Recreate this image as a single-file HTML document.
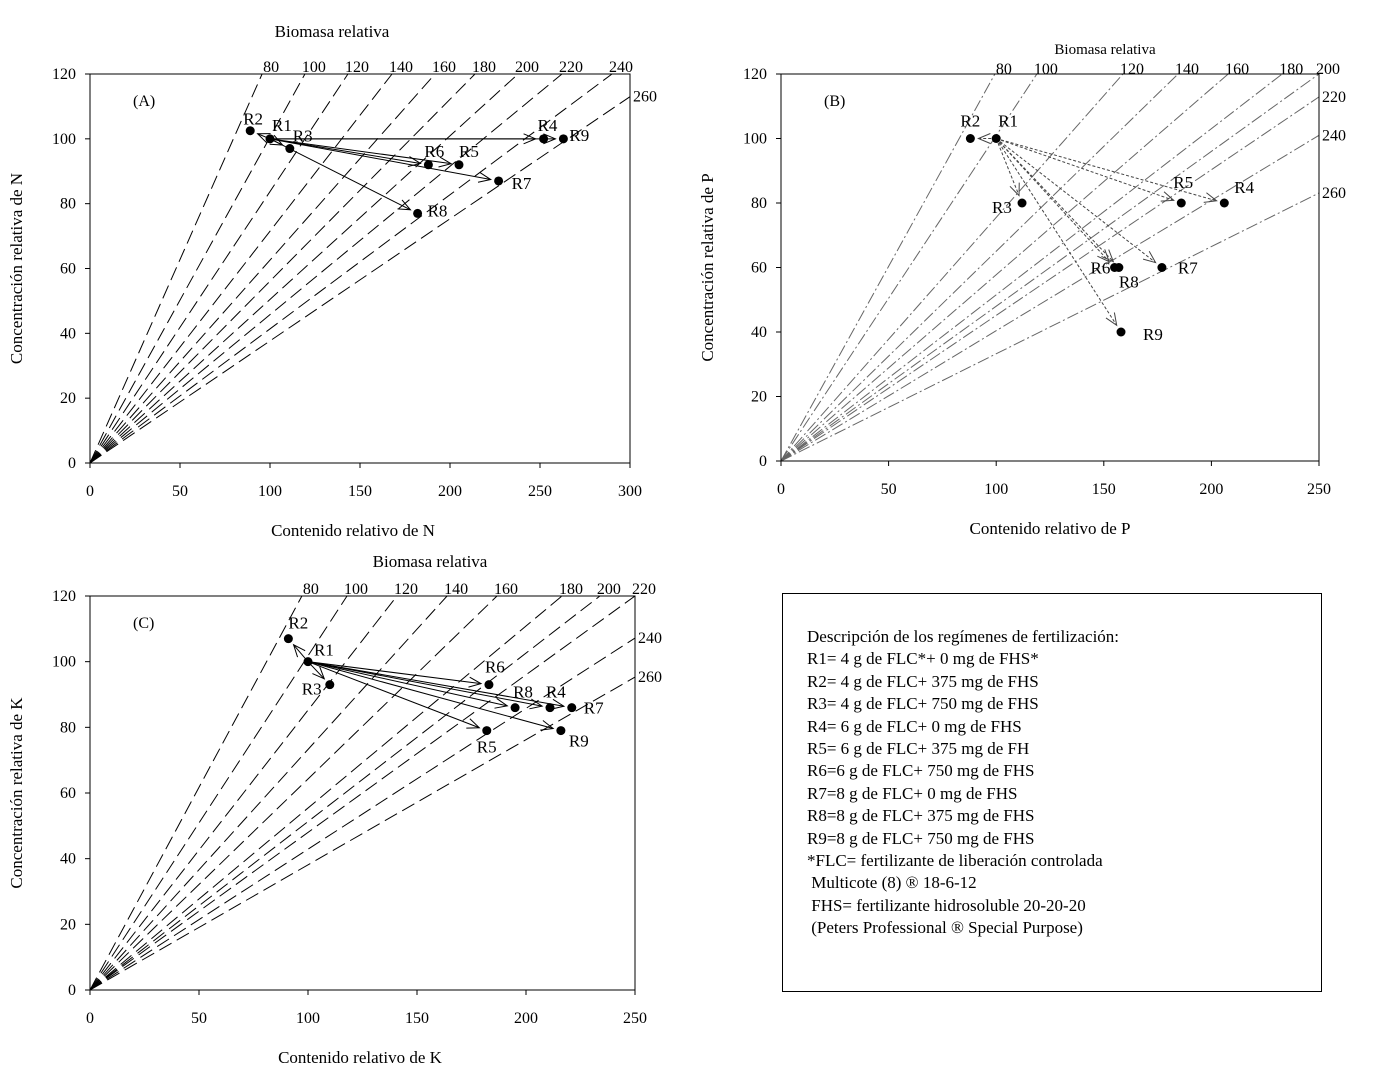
<!DOCTYPE html>
<html><head><meta charset="utf-8">
<style>
body{margin:0;background:#fff;width:1395px;height:1070px;overflow:hidden;font-family:"Liberation Serif",serif;}
svg{position:absolute;left:0;top:0}
text{font-family:"Liberation Serif",serif;fill:#000}
#legend{position:absolute;left:782px;top:593px;width:540px;height:399px;border:1px solid #000;box-sizing:border-box;font-size:17px;line-height:22.4px;padding:32px 0 0 24px}
</style></head>
<body>
<svg id="chart" width="1395" height="1070"></svg>
<div id="legend">
<div>Descripción de los regímenes de fertilización:</div>
<div>R1= 4 g de FLC*+ 0 mg de FHS*</div>
<div>R2= 4 g de FLC+ 375 mg de FHS</div>
<div>R3= 4 g de FLC+ 750 mg de FHS</div>
<div>R4= 6 g de FLC+ 0 mg de FHS</div>
<div>R5= 6 g de FLC+ 375 mg de FH</div>
<div>R6=6 g de FLC+ 750 mg de FHS</div>
<div>R7=8 g de FLC+ 0 mg de FHS</div>
<div>R8=8 g de FLC+ 375 mg de FHS</div>
<div>R9=8 g de FLC+ 750 mg de FHS</div>
<div>*FLC= fertilizante de liberación controlada</div>
<div>&nbsp;Multicote (8) ® 18-6-12</div>
<div>&nbsp;FHS= fertilizante hidrosoluble 20-20-20</div>
<div>&nbsp;(Peters Professional ® Special Purpose)</div>
</div>
<script>
const NS="http://www.w3.org/2000/svg";
const svg=document.getElementById('chart');
const namesA=["R1","R2","R3","R4","R5","R6","R7","R8","R9"];
// Panel A data (N)
const xA=[100,89,111,252,205,188,227,182,263];
const yA=[100,102.5,97,100,92,92,87,77,100];
const biomassA=[80,100,120,140,160,180,200,220,240,260];
const endXA=[95.6,119.4,143.3,167.8,191.7,213.9,237.8,262.2,290,300];
const endYA=[120,120,120,120,120,120,120,120,120,113];
const xTicksA=[0,50,100,150,200,250,300];
// Panel B data (P)
const xB=[100,88,112,206,186,155,177,157,158];
const yB=[100,100,80,80,80,60,60,60,40];
const biomassB=[80,100,120,140,160,180,200,220,240,260];
const endXB=[99.4,118.9,158.9,184.5,207.8,232.9,250,250,250,250];
const endYB=[120,120,120,120,120,120,120,112.9,101,83.1];
const xTicksB=[0,50,100,150,200,250];
// Panel C data (K)
const xC=[100,91,110,211,182,183,221,195,216];
const yC=[100,107,93,86,79,93,86,86,79];
const biomassC=[80,100,120,140,160,180,200,220,240,260];
const endXC=[97.2,117.9,140.8,163.8,186.7,216.5,233.9,250,250,250];
const endYC=[120,120,120,120,120,120,120,120,107.2,95.3];
const xTicksC=[0,50,100,150,200,250];
const yTicks=[0,20,40,60,80,100,120];

function el(tag,attrs,parent){const e=document.createElementNS(NS,tag);for(const k in attrs)e.setAttribute(k,attrs[k]);(parent||svg).appendChild(e);return e;}
function txt(s,x,y,size,anchor,parent,name){const t=el('text',{x:x,y:y,'font-size':size,'text-anchor':anchor||'start'},parent);t.textContent=s;


return t;}

function panel(cfg){
 const g=el('g',{});
 
 
 const X=v=>cfg.x0+(v-0)/cfg.xmax*(cfg.x1-cfg.x0);
 const Y=v=>cfg.y1-(v/120)*(cfg.y1-cfg.y0);
 cfg.bio.forEach((b,i)=>{
  const xe=cfg.ex[i], ye=cfg.ey[i];
  const ln=el('line',{x1:X(0),y1:Y(0),x2:X(xe),y2:Y(ye),stroke:cfg.lineColor,'stroke-width':1,'stroke-dasharray':cfg.dash},g);
  
  
  if(ye>=120) txt(String(b),X(xe)+9,cfg.y0-cfg.tOff,16,'middle',g,'biomass-label-'+b);
  else txt(String(b),cfg.x1+3,Y(ye)+5,16,'start',g,'biomass-label-'+b);
 });
 const fr=el('rect',{x:cfg.x0,y:cfg.y0,width:cfg.x1-cfg.x0,height:cfg.y1-cfg.y0,fill:'none',stroke:'#000','stroke-width':1},g);
 
 
 cfg.xt.forEach(v=>{el('line',{x1:X(v),y1:cfg.y1,x2:X(v),y2:cfg.y1+5,stroke:'#000'},g);txt(String(v),X(v),cfg.y1+33,16,'middle',g,'x-tick-'+v);});
 yTicks.forEach(v=>{el('line',{x1:cfg.x0-5,y1:Y(v),x2:cfg.x0,y2:Y(v),stroke:'#000'},g);txt(String(v),cfg.x0-14,Y(v)+5,16,'end',g,'y-tick-'+v);});
 txt(cfg.xlabel,cfg.xlx,cfg.y1+73,17,'middle',g,'x-axis-title');
 const yl=txt(cfg.ylabel,0,0,17,'middle',g,'y-axis-title');
 yl.setAttribute('transform','translate('+(cfg.x0-68)+','+((cfg.y0+cfg.y1)/2)+') rotate(-90)');
 txt('Biomasa relativa',cfg.btx,cfg.bty,cfg.bts,'middle',g,'top-axis-title');
 txt(cfg.letter,cfg.x0+43,cfg.y0+32,16,'start',g,'panel-letter');
 for(let i=1;i<cfg.xs.length;i++){
  const ax=X(cfg.xs[0]),ay=Y(cfg.ys[0]),bx=X(cfg.xs[i]),by=Y(cfg.ys[i]);
  const d=Math.hypot(bx-ax,by-ay),ux=(bx-ax)/d,uy=(by-ay)/d;
  const ex=bx-ux*8,ey=by-uy*8;
  const a=el('line',{x1:ax,y1:ay,x2:ex,y2:ey,stroke:cfg.arrowColor,'stroke-width':1,'stroke-dasharray':cfg.arrowDash},g);
  
  
  const hx=12,hw=5;
  const p1=[ex-ux*hx-uy*hw,ey-uy*hx+ux*hw],p2=[ex-ux*hx+uy*hw,ey-uy*hx-ux*hw];
  el('polyline',{points:p1.join(',')+' '+ex+','+ey+' '+p2.join(','),fill:'none',stroke:cfg.arrowColor,'stroke-width':1},g);
 }
 cfg.xs.forEach((v,i)=>{
  const c=el('circle',{cx:X(v),cy:Y(cfg.ys[i]),r:4.5,fill:'#000'},g);
  
  
  const o=cfg.lo[i];
  txt(cfg.names[i],X(v)+o[0],Y(cfg.ys[i])+o[1],17,'start',g,'point-label-'+cfg.names[i].toLowerCase());
 });
}
panel({name:'panel-a',letter:'(A)',x0:90,x1:630,y0:74,y1:463,xmax:300,bio:biomassA,ex:endXA,ey:endYA,xt:xTicksA,xs:xA,ys:yA,names:namesA,
 xlabel:'Contenido relativo de N',xlx:353,ylabel:'Concentración relativa de N',btx:332,bty:37,bts:17,tOff:2,
 lineColor:'#000',dash:'14,6',arrowColor:'#000',arrowDash:'none',
 lo:[[2,-8],[-7,-6],[3,-7],[-6,-8],[0,-8],[-4,-8],[13,8],[10,3],[6,2]]});
panel({name:'panel-b',letter:'(B)',x0:781,x1:1319,y0:74,y1:461,xmax:250,bio:biomassB,ex:endXB,ey:endYB,xt:xTicksB,xs:xB,ys:yB,names:namesA,
 xlabel:'Contenido relativo de P',xlx:1050,ylabel:'Concentración relativa de P',btx:1105,bty:54,bts:15,tOff:0,
 lineColor:'#666',dash:'12,3,2,3',arrowColor:'#444',arrowDash:'3,2',
 lo:[[2,-12],[-10,-12],[-30,10],[10,-10],[-8,-15],[-24,6],[16,6],[0,20],[22,8]]});
panel({name:'panel-c',letter:'(C)',x0:90,x1:635,y0:596,y1:990,xmax:250,bio:biomassC,ex:endXC,ey:endYC,xt:xTicksC,xs:xC,ys:yC,names:namesA,
 xlabel:'Contenido relativo de K',xlx:360,ylabel:'Concentración relativa de K',btx:430,bty:567,bts:17,tOff:2,
 lineColor:'#000',dash:'14,6',arrowColor:'#000',arrowDash:'none',
 lo:[[6,-6],[0,-10],[-28,10],[-4,-10],[-10,22],[-4,-12],[12,6],[-2,-10],[8,16]]});
</script>
</body></html>
